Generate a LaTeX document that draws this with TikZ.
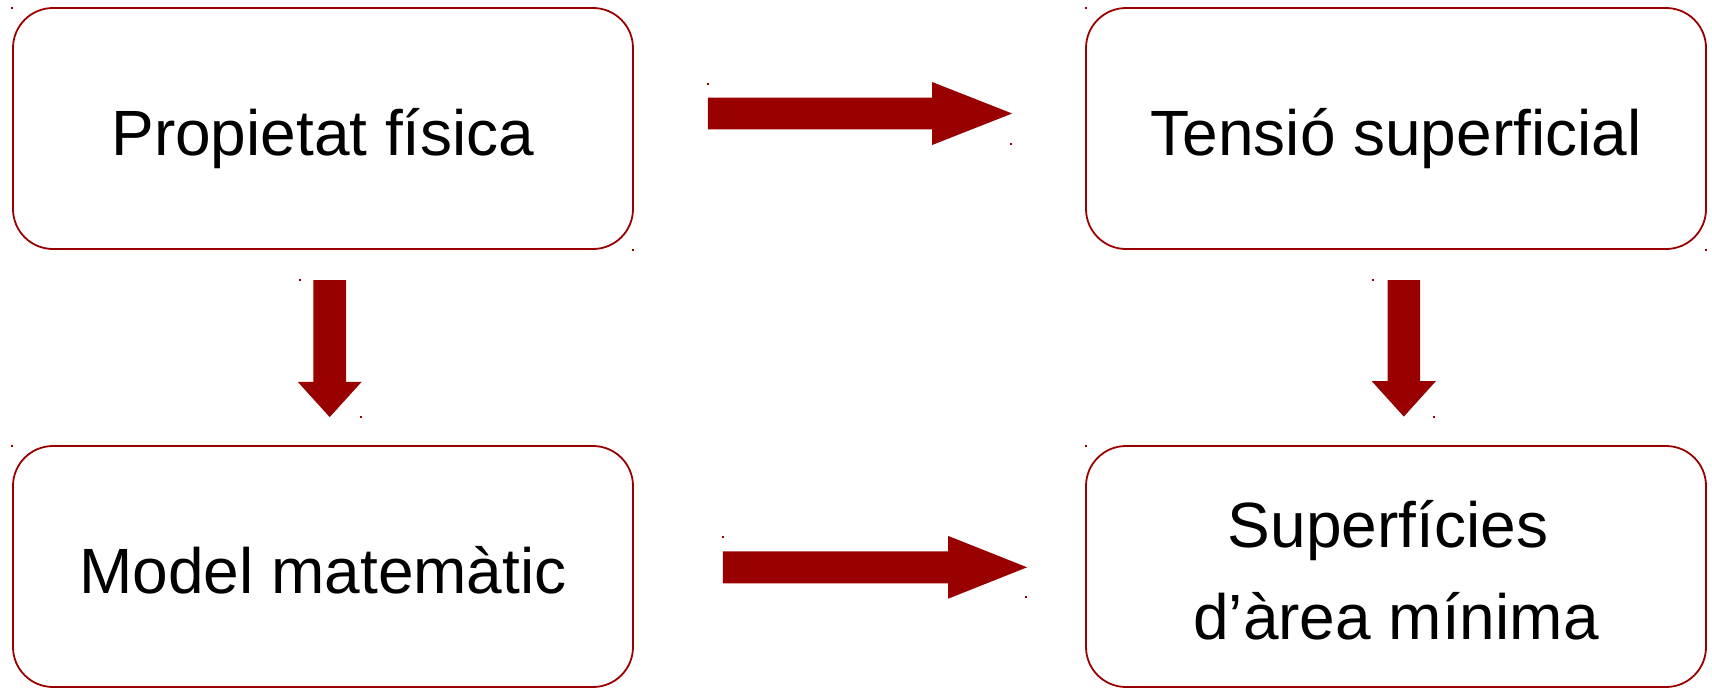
\documentclass[tikz,border=0pt]{standalone}
\usepackage{fontspec}
\setmainfont{Liberation Sans}
\usetikzlibrary{calc}
\definecolor{dred}{HTML}{990000}
\tikzset{
  box/.style={draw=dred, line width=1.8pt, fill=white, rounded corners=40pt,
    minimum width=620pt, minimum height=241pt, inner sep=0pt},
  lbl/.style={anchor=base, inner sep=0pt, font=\fontsize{64}{92}\selectfont},
  arrowfill/.style={fill=dred},
  dotmark/.style={fill=dred}
}
\begin{document}
\begin{tikzpicture}[x=1pt,y=-1pt]
\useasboundingbox (0,0) rectangle (1712,688);
% boxes
\node[box] (pf) at (323,128.5) {};
\node[box] (ts) at (1396,128.5) {};
\node[box] (mm) at (323,566.5) {};
\node[box] (sm) at (1396,566.5) {};
% labels
\node[lbl] (pft) at ([yshift=-27pt]pf.center) {Propietat física};
\node[lbl] (tst) at ([yshift=-27pt]ts.center) {Tensió superficial};
\node[lbl] (mmt) at ([yshift=-27pt]mm.center) {Model matemàtic};
\node[lbl] (smt1) at ([xshift=-8pt,yshift=19pt]sm.center) {Superfícies};
\node[lbl] (smt2) at ([yshift=-73pt]sm.center) {d’àrea mínima};
% arrow end points
\coordinate (a1s) at ([xshift=74pt,yshift=15pt]pf.east);
\coordinate (a1t) at ([xshift=-73pt,yshift=15pt]ts.west);
\coordinate (a2s) at ([xshift=89pt,yshift=-0.8pt]mm.east);
\coordinate (a2t) at ([xshift=-58pt,yshift=-0.8pt]sm.west);
\coordinate (a3s) at ([xshift=6.7pt,yshift=-30.3pt]pf.south);
\coordinate (a3t) at ([xshift=6.7pt,yshift=28pt]mm.north);
\coordinate (a4s) at ([xshift=7.8pt,yshift=-30.3pt]ts.south);
\coordinate (a4t) at ([xshift=7.8pt,yshift=28.5pt]sm.north);
% horizontal arrows
\fill[arrowfill] ($(a1s)+(0,-15.8)$) -- ($(a1t)+(-80,-15.8)$) -- ($(a1t)+(-80,-31.5)$) -- (a1t)
  -- ($(a1t)+(-80,31.5)$) -- ($(a1t)+(-80,15.8)$) -- ($(a1s)+(0,15.8)$) -- cycle;
\fill[arrowfill] ($(a2s)+(0,-16)$) -- ($(a2t)+(-79,-16)$) -- ($(a2t)+(-79,-31.4)$) -- (a2t)
  -- ($(a2t)+(-79,31.4)$) -- ($(a2t)+(-79,16)$) -- ($(a2s)+(0,16)$) -- cycle;
% vertical arrows
\fill[arrowfill] ($(a3s)+(-16.3,0)$) -- ($(a3t)+(-16.3,-35.3)$) -- ($(a3t)+(-32,-35.3)$) -- (a3t)
  -- ($(a3t)+(32,-35.3)$) -- ($(a3t)+(16.3,-35.3)$) -- ($(a3s)+(16.3,0)$) -- cycle;
\fill[arrowfill] ($(a4s)+(-16.2,0)$) -- ($(a4t)+(-16.2,-35.6)$) -- ($(a4t)+(-32.2,-35.6)$) -- (a4t)
  -- ($(a4t)+(32.2,-35.6)$) -- ($(a4t)+(16.2,-35.6)$) -- ($(a4s)+(16.2,0)$) -- cycle;
% tiny corner marks
\foreach \p in {(11,7),(632,249),(1085,7),(1705,249),(11,445),(1085,445),
  (707,83),(1010,143),(722,536),(1025,596),(299,279),(360,416),(1372,279),(1433,416)}
  \fill[dotmark] \p rectangle ++(2.2,2.2);
\end{tikzpicture}
\end{document}
